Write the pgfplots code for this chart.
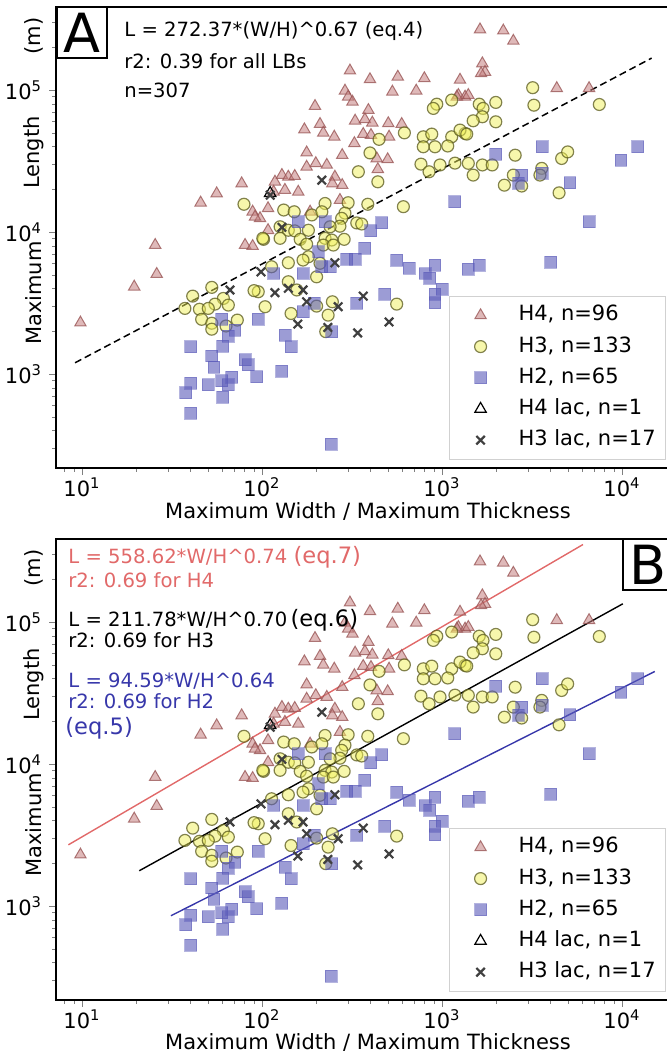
\documentclass[border=0pt]{standalone}
\usepackage{fontspec}
\setmainfont{DejaVu Sans}
\usepackage{pgfplots}
\usepackage{pgfplotstable}
\pgfplotsset{compat=1.18}

\definecolor{h4f}{RGB}{196,128,128}
\definecolor{h4e}{RGB}{150,80,80}
\definecolor{h3f}{RGB}{240,240,90}
\definecolor{h3e}{RGB}{90,90,30}
\definecolor{h2f}{RGB}{90,90,185}
\definecolor{redl}{RGB}{225,105,105}
\definecolor{bluel}{RGB}{55,55,170}

\newcommand{\fA}{\fontsize{9.8bp}{12bp}\selectfont}
\newcommand{\fL}{\fontsize{10.5bp}{12.6bp}\selectfont}
\newcommand{\fE}{\fontsize{11.3bp}{13bp}\selectfont}

% H4
\pgfplotstableread{
x y
9.8 2300
19.5 4120
26.0 5060
25.5 8100
45.6 16100
56.0 18700
77.1 22000
88.7 13900
97.5 12500
80.5 8100
88.7 7960
91.4 12800
108 14700
108 10300
116 19200
129 25200
118 22600
140 24500
152 24800
134 19800
159 19200
177 28800
199 30500
177 36300
229 29700
279 34800
254 24500
246 22000
279 21400
271 16800
185 13900
172 52800
210 57600
219 50000
252 46900
197 77100
308 137000
398 119000
568 124000
798 121000
1259 118000
289 98900
301 89700
318 82700
530 97300
719 98900
1233 92200
1343 89700
390 72200
329 60800
373 62200
410 58900
503 58300
597 57600
365 49000
403 48200
326 42200
508 46900
434 33000
499 32500
440 27700
1626 267000
2190 262000
2490 222000
1676 154000
1733 134000
1648 131000
4340 103000
6560 103000
1400 92200
1208 89700
}\hfour

% H3
\pgfplotstableread{
x y
935 79600
1132 85100
895 74300
618 50000
447 45000
398 36100
787 46900
877 49000
1132 46900
1343 49500
787 39900
914 39900
1076 40400
3190 104000
3240 78300
7480 79200
1990 81900
1610 79600
1690 74300
1676 64900
1490 60800
1990 59800
1259 52300
1372 49000
2550 34800
4620 33000
4990 36700
1400 30500
1676 29700
1900 29700
1490 25200
2490 25200
2220 21400
2770 21100
3580 28100
3500 25200
4470 18900
1180 30600
764 30100
975 29700
847 26600
343 26600
440 22600
387 15700
610 15100
224 15900
301 16100
132 14300
151 13900
189 13200
215 13900
289 13600
336 11600
358 11400
277 12500
271 11000
239 10900
126 10900
140 10300
152 10200
181 10300
102 8890
126 9040
163 8890
177 8220
224 9040
244 8790
286 8890
219 8100
249 8100
181 6700
169 6350
210 6030
140 6080
113 5700
201 4840
95.3 3800
140 4470
156 3910
104 2980
246 3230
560 3110
79.4 15700
101 9040
52.6 4080
41.2 3540
61.0 3410
54.8 3110
65.0 3060
90.3 3870
37.3 2900
44.9 2860
50.3 2900
46.2 2430
52.6 2280
52.6 2070
63.1 2180
72.9 2400
145 2670
201 3010
233 2600
226 1990
}\hthree

% H2
\pgfplotstableread{
x y
3600 39900
12200 39900
1990 35400
9870 32100
2770 25200
2660 22000
3600 25900
5140 22200
1180 16300
6580 11800
4020 6120
1400 5480
1610 5860
462 11600
403 10200
159 11800
224 11800
373 7670
296 6430
329 6430
560 6350
656 5550
805 5110
914 5860
857 4720
1004 3950
914 3650
206 7260
215 5700
169 5110
116 5110
239 5700
482 3650
336 3150
195 3150
59.7 2430
95.3 2430
70.8 2040
65.0 1850
40.2 1560
60.5 1570
52.6 1340
54.1 1120
80.5 1260
83.9 1160
93.5 958
40.2 859
50.3 838
37.8 738
59.7 897
67.9 948
65.0 838
60.5 685
40.2 528
135 1880
145 1560
129 1050
169 2750
244 1990
914 3170
242 321
}\htwo

% H4 lac
\pgfplotstableread{
x y
111 18800
}\hfourlac

% H3 lac
\pgfplotstableread{
x y
215 23200
111 18200
129 10800
254 6080
98.7 5250
118 3740
140 4020
169 3910
365 3540
177 3230
265 2980
66.4 3910
158 2250
232 2130
340 1950
508 2330
}\hthreelac

\pgfplotsset{
  h4/.style={only marks, mark=triangle*, mark size=3.3pt, mark options={draw=h4e, fill=h4f, fill opacity=0.55, draw opacity=0.75, line width=0.5bp}},
  h3/.style={only marks, mark=*, mark size=3pt, mark options={draw=h3e, fill=h3f, fill opacity=0.5, draw opacity=0.75, line width=0.6bp}},
  h2/.style={only marks, mark=square*, mark size=3pt, mark options={draw=h2f, fill=h2f, fill opacity=0.6, draw opacity=0.45, line width=0.5bp}},
  h4lac/.style={only marks, mark=triangle, mark size=3.3pt, mark options={draw=black, line width=0.6bp}},
  h3lac/.style={only marks, mark=x, mark size=3pt, mark options={draw=black!75, line width=1.1bp}},
  legend image code/.code={\path[draw=none, fill=none] (0bp,-3bp) rectangle (21bp,3bp); \draw[#1] plot coordinates {(10.5bp,0bp)};},
  panelopts/.style={
    scale only axis, width=308.5bp, height=230.5bp,
    xmin=7.17, xmax=19200, ymin=218, ymax=3.85e5,
    axis line style={line width=1bp},
    tick pos=left, tick align=outside,
    major tick length=3.5bp, minor tick length=2bp,
    xtick={10,100,1000,10000},
    xticklabels={10\textsuperscript{1},10\textsuperscript{2},10\textsuperscript{3},10\textsuperscript{4}},
    ytick={1000,10000,100000},
    yticklabels={10\textsuperscript{3},10\textsuperscript{4},10\textsuperscript{5}},
    minor xtick={8,9,20,30,40,50,60,70,80,90,200,300,400,500,600,700,800,900,2000,3000,4000,5000,6000,7000,8000,9000},
    minor ytick={300,400,500,600,700,800,900,2000,3000,4000,5000,6000,7000,8000,9000,20000,30000,40000,50000,60000,70000,80000,90000,200000,300000},
    ticklabel style={font=\fL},
    xticklabel style={yshift=2bp},
    legend cell align=left,
    legend style={at={(0.9887,0.3731)}, anchor=north east, draw=black!18, fill=white,
      font=\fL, inner xsep=5bp, inner ysep=2.25bp, row sep=1.1bp, column sep=8.5bp,
      nodes={inner xsep=0bp, inner ysep=2bp, text height=8bp, text depth=2.5bp}},
  },
}

\begin{document}
\begin{tikzpicture}
% ---------------- Panel A ----------------
\begin{axis}[xmode=log, ymode=log, panelopts, at={(28bp,293bp)}, anchor=south west]
\addplot[h4] table {\hfour};
\addlegendentry{H4, n=96}
\addplot[h3] table {\hthree};
\addlegendentry{H3, n=133}
\addplot[h2] table {\htwo};
\addlegendentry{H2, n=65}
\addplot[h4lac] table {\hfourlac};
\addlegendentry{H4 lac, n=1}
\addplot[h3lac] table {\hthreelac};
\addlegendentry{H3 lac, n=17}
\addplot[black, mark=none, line width=0.75bp, dash pattern=on 3.5bp off 2bp, forget plot] coordinates {(9.15,1201) (14600,168000)};
\end{axis}
% ---------------- Panel B ----------------
\begin{axis}[xmode=log, ymode=log, panelopts, at={(28bp,27bp)}, anchor=south west]
\addplot[h4] table {\hfour};
\addlegendentry{H4, n=96}
\addplot[h3] table {\hthree};
\addlegendentry{H3, n=133}
\addplot[h2] table {\htwo};
\addlegendentry{H2, n=65}
\addplot[h4lac] table {\hfourlac};
\addlegendentry{H4 lac, n=1}
\addplot[h3lac] table {\hthreelac};
\addlegendentry{H3 lac, n=17}
\addplot[redl, mark=none, line width=0.7bp, forget plot] coordinates {(8.4,2700) (6070,352000)};
\addplot[black, mark=none, line width=0.7bp, forget plot] coordinates {(20.8,1773) (10100,134500)};
\addplot[bluel, mark=none, line width=0.7bp, forget plot] coordinates {(31.2,855) (15200,44900)};
\end{axis}
% ---------------- texts in pixel coordinates ----------------
\begin{scope}[x=0.5bp, y=-0.5bp, yshift=527bp]
  % panel A
  \draw[line width=1bp, fill=white] (57,7) rectangle (107,58);
  \node[font=\fontsize{27bp}{30bp}\selectfont, inner sep=0pt] at (82,33) {A};
  \node[anchor=base west, inner sep=0pt, font=\fA] at (124,36.3) {L = 272.37*(W/H)\textasciicircum{}0.67 (eq.4)};
  \node[anchor=base west, inner sep=0pt, font=\fA] at (124,69) {r2: 0.39 for all LBs};
  \node[anchor=base west, inner sep=0pt, font=\fA] at (124,97.3) {n=307};
  \node[font=\fL, rotate=90] at (34,36) {(m)};
  \node[font=\fL, rotate=90] at (34,152.5) {Length};
  \node[font=\fL, rotate=90] at (34,293) {Maximum};
  \node[font=\fL] at (368,512) {Maximum Width / Maximum Thickness};
  % panel B
  \draw[line width=1bp, fill=white] (623,539) rectangle (680,590);
  \node[font=\fontsize{27bp}{30bp}\selectfont, inner sep=0pt] at (648.5,565) {B};
  \node[anchor=base west, inner sep=0pt, font=\fA, text=redl] at (68,564) {L = 558.62*W/H\textasciicircum{}0.74 {\fE(eq.7)}};
  \node[anchor=base west, inner sep=0pt, font=\fA, text=redl] at (68,587.3) {r2: 0.69 for H4};
  \node[anchor=base west, inner sep=0pt, font=\fA] at (68,626.3) {L = 211.78*W/H\textasciicircum{}0.70\,{\fE(eq.6)}};
  \node[anchor=base west, inner sep=0pt, font=\fA] at (68,647.3) {r2: 0.69 for H3};
  \node[anchor=base west, inner sep=0pt, font=\fA, text=bluel] at (68,688) {L = 94.59*W/H\textasciicircum{}0.64};
  \node[anchor=base west, inner sep=0pt, font=\fA, text=bluel] at (68,709) {r2: 0.69 for H2};
  \node[anchor=base west, inner sep=0pt, font=\fE, text=bluel] at (65,735) {(eq.5)};
  \node[font=\fL, rotate=90] at (34,568) {(m)};
  \node[font=\fL, rotate=90] at (34,684.5) {Length};
  \node[font=\fL, rotate=90] at (34,825) {Maximum};
  \node[font=\fL] at (368,1043) {Maximum Width / Maximum Thickness};
\end{scope}
\pgfresetboundingbox
\useasboundingbox (0,0) rectangle (333.5bp,527bp);
\end{tikzpicture}
\end{document}
